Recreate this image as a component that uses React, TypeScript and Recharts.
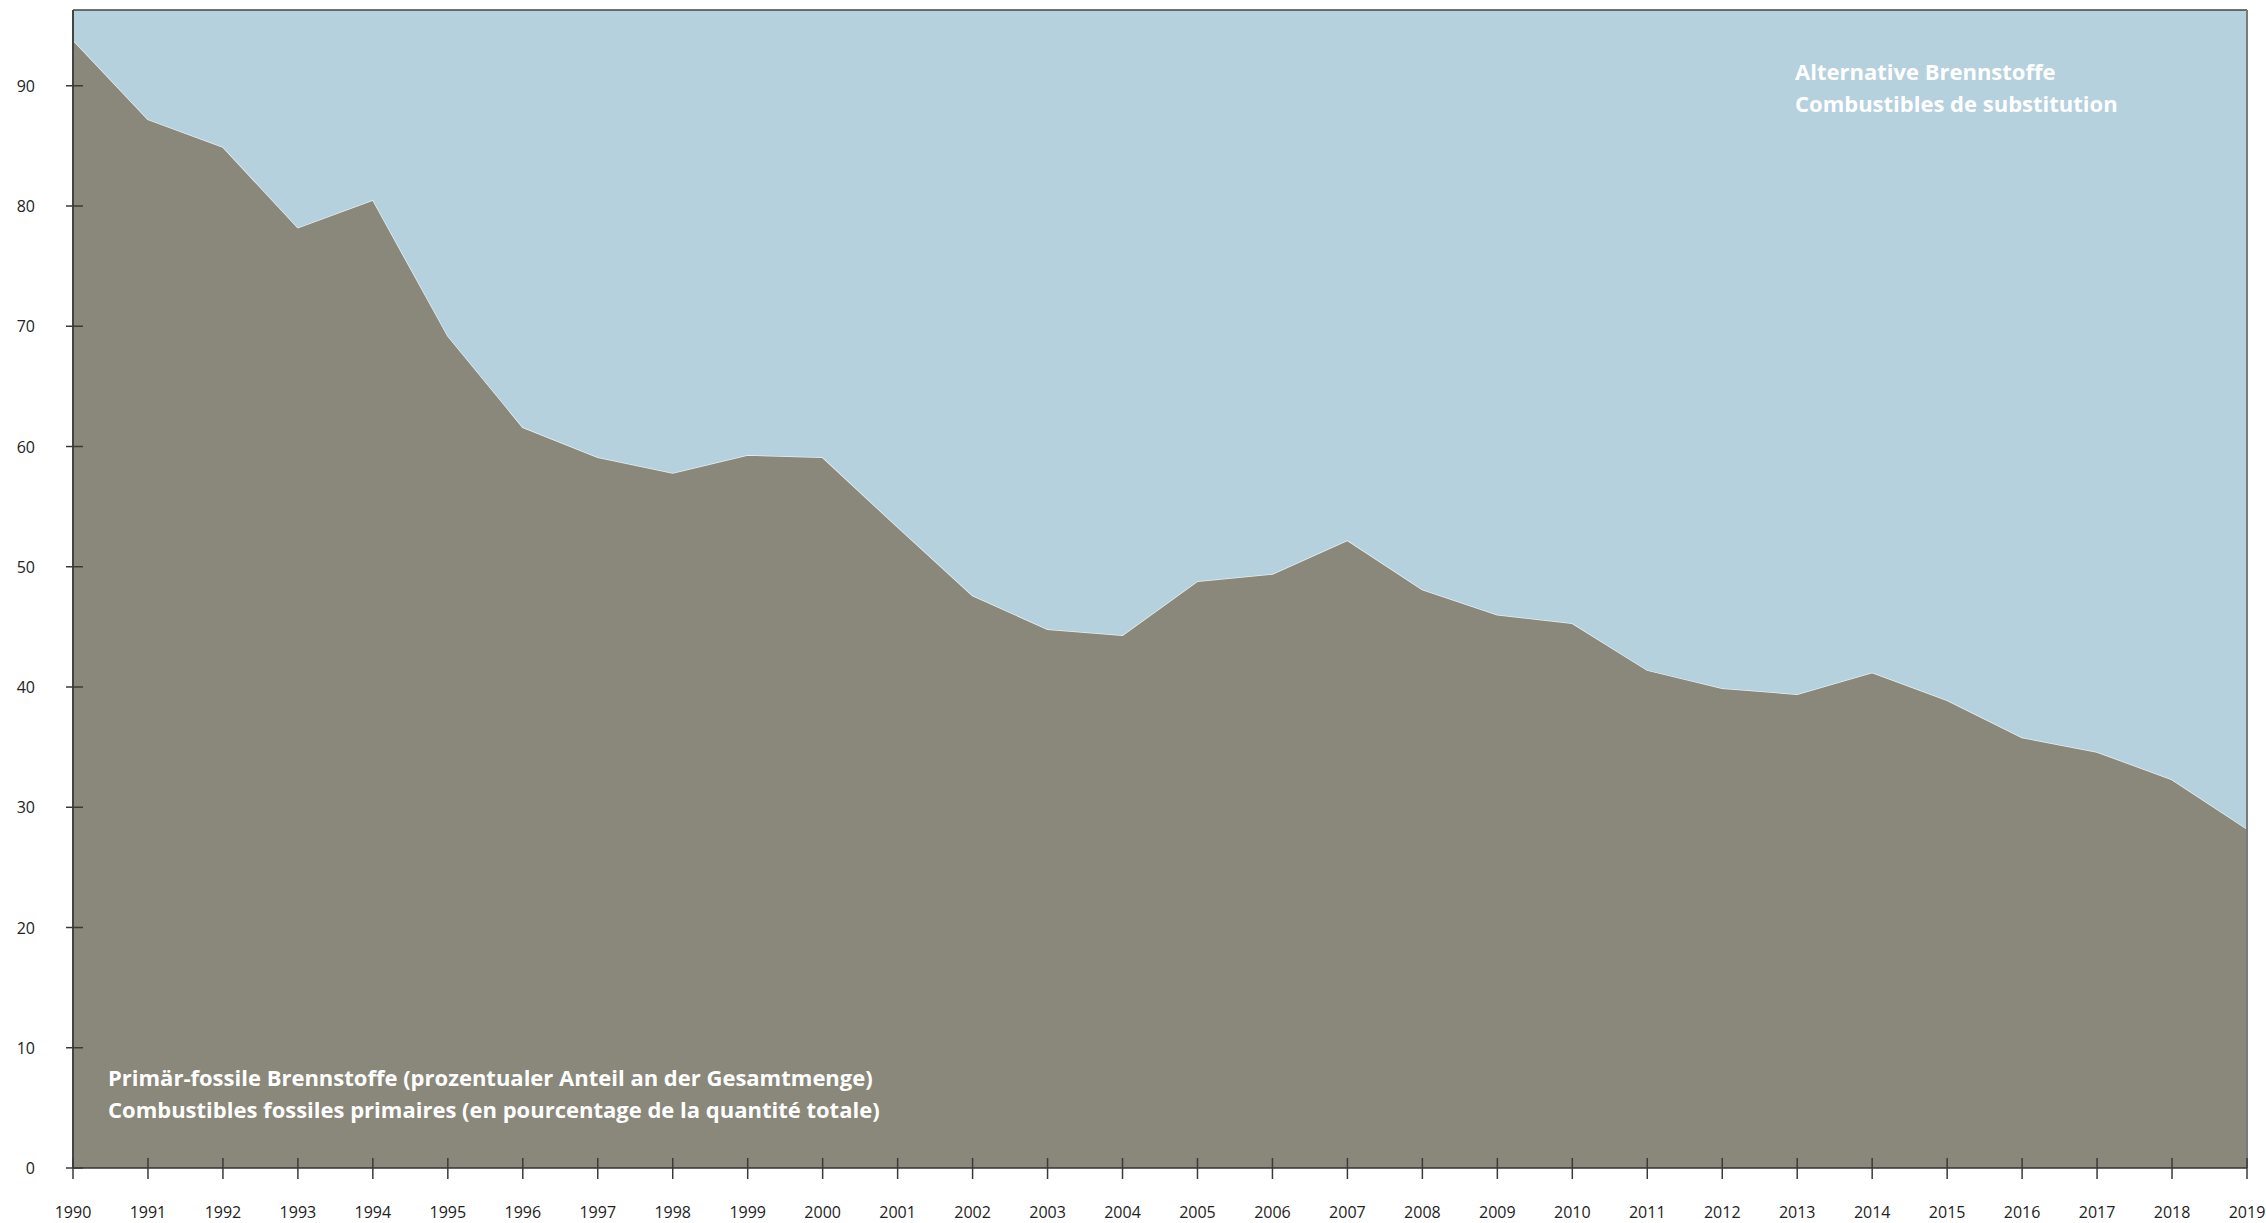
import React from 'react';
import { AreaChart, Area, XAxis, YAxis, ReferenceLine } from 'recharts';

// Anteil der Brennstoffe in %, 1990-2019
const years = [
    1990, 1991, 1992, 1993, 1994, 1995, 1996, 1997, 1998, 1999,
    2000, 2001, 2002, 2003, 2004, 2005, 2006, 2007, 2008, 2009,
    2010, 2011, 2012, 2013, 2014, 2015, 2016, 2017, 2018, 2019,
];
const fossilShare = [
    93.8, 87.2, 84.9, 78.2, 80.5, 69.2, 61.6, 59.1, 57.8, 59.3,
    59.1, 53.3, 47.6, 44.8, 44.3, 48.8, 49.4, 52.2, 48.1, 46.0,
    45.3, 41.4, 39.9, 39.4, 41.2, 38.9, 35.8, 34.6, 32.3, 28.2,
];
const alternativeShare = [
    6.2, 12.8, 15.1, 21.8, 19.5, 30.8, 38.4, 40.9, 42.2, 40.7,
    40.9, 46.7, 52.4, 55.2, 55.7, 51.2, 50.6, 47.8, 51.9, 54.0,
    54.7, 58.6, 60.1, 60.6, 58.8, 61.1, 64.2, 65.4, 67.7, 71.8,
];
const yTicks = [0, 10, 20, 30, 40, 50, 60, 70, 80, 90];

const labelFossil = [
    'Primär-fossile Brennstoffe (prozentualer Anteil an der Gesamtmenge)',
    'Combustibles fossiles primaires (en pourcentage de la quantité totale)',
];
const labelAlternative = ['Alternative Brennstoffe', 'Combustibles de substitution'];

const FOSSIL = '#8a887a';
const ALT = '#b5d1dd';
const FONT = '"Open Sans", "Noto Sans", sans-serif';
const Y_MAX = 96.3;

const data = years.map((year, i) => ({ year, fossil: fossilShare[i], alternative: alternativeShare[i] }));

const YTick = (props: any) => {
    const { x, y, payload } = props;
    return (
        <g>
            <line x1={x - 7} x2={x + 10} y1={y} y2={y} stroke="#3a3a3a" strokeWidth={1.5} />
            <text x={x - 38} y={y} textAnchor="end" dominantBaseline="central" fontSize={16} fill="#222" fontFamily={FONT}>
                {payload.value}
            </text>
        </g>
    );
};

const XTick = (props: any) => {
    const { x, y, payload } = props;
    return (
        <g>
            <line x1={x} x2={x} y1={y - 10} y2={y + 11} stroke="#3a3a3a" strokeWidth={1.5} />
            <text x={x} y={y + 44} textAnchor="middle" dominantBaseline="central" fontSize={16} fill="#222" fontFamily={FONT}>
                {payload.value}
            </text>
        </g>
    );
};

export default function App() {
    return (
        <div style={{ position: 'absolute', left: 0, top: 0, width: 2266, height: 1223, background: '#fff' }}>
            <AreaChart width={2266} height={1223} data={data} margin={{ top: 10, right: 19, bottom: 0, left: 0 }}>
                <XAxis
                    dataKey="year"
                    type="number"
                    domain={[1990, 2019]}
                    ticks={years}
                    interval={0}
                    height={55}
                    tickSize={0}
                    tickMargin={0}
                    tick={<XTick />}
                    axisLine={{ stroke: '#333', strokeWidth: 1.5 }}
                    tickLine={false}
                />
                <YAxis
                    type="number"
                    domain={[0, Y_MAX]}
                    allowDataOverflow
                    ticks={yTicks}
                    width={73}
                    tickSize={0}
                    tickMargin={0}
                    tick={<YTick />}
                    axisLine={{ stroke: '#444', strokeWidth: 2 }}
                    tickLine={false}
                />
                <Area
                    type="linear"
                    dataKey="fossil"
                    stackId="share"
                    fill={FOSSIL}
                    fillOpacity={1}
                    stroke="#e8eef1"
                    strokeWidth={1.5}
                    isAnimationActive={false}
                />
                <Area
                    type="linear"
                    dataKey="alternative"
                    stackId="share"
                    fill={ALT}
                    fillOpacity={1}
                    stroke="none"
                    isAnimationActive={false}
                />
                <ReferenceLine y={Y_MAX} stroke="#444" strokeWidth={1.5} />
                <ReferenceLine x={2019} stroke="#7a7a7a" strokeWidth={2} />
            </AreaChart>
            <svg width={2266} height={1223} style={{ position: 'absolute', left: 0, top: 0, pointerEvents: 'none' }}>
                {labelAlternative.map((t, i) => (
                    <text key={t} x={1795} y={80 + i * 32} fill="#fff" fontSize={22} fontWeight={700} fontFamily={FONT}>
                        {t}
                    </text>
                ))}
                {labelFossil.map((t, i) => (
                    <text key={t} x={108} y={1086 + i * 32} fill="#fff" fontSize={22} fontWeight={700} fontFamily={FONT}>
                        {t}
                    </text>
                ))}
            </svg>
        </div>
    );
}
